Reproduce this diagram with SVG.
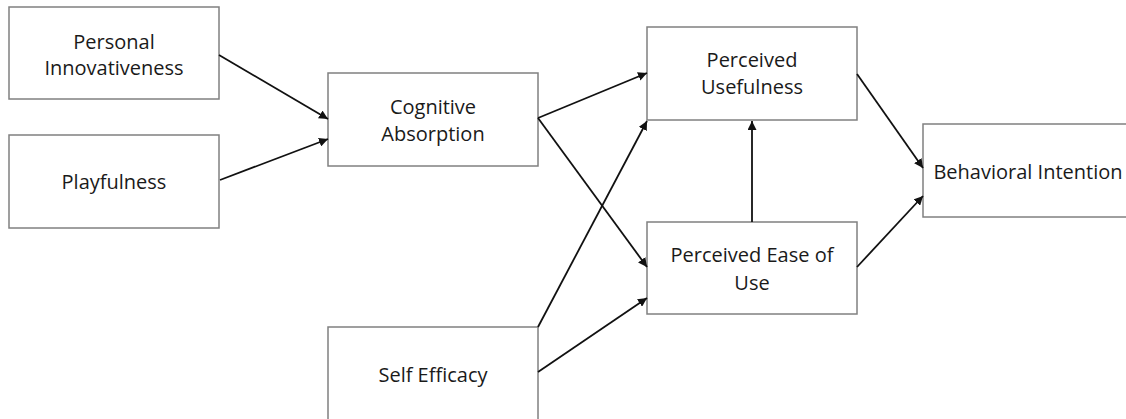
<svg xmlns="http://www.w3.org/2000/svg" width="1126" height="419" viewBox="0 0 1126 419">
<style>
.box{fill:#fff;stroke:#808080;stroke-width:1.5}
.lbl{font-family:"Open Sans","Liberation Sans",sans-serif;font-size:20px;fill:#1a1a1a;text-anchor:middle}
.edge{stroke:#111;stroke-width:1.8;fill:none;marker-end:url(#ah)}
</style>
<defs>
<marker id="ah" viewBox="0 0 10 10" refX="10" refY="5" markerWidth="5" markerHeight="5" orient="auto" markerUnits="strokeWidth">
<path d="M0,0 L10,5 L0,10 z" fill="#111"/>
</marker>
</defs>
<rect width="1126" height="419" fill="#fff"/>
<g id="n-pi"><rect class="box" x="9" y="7" width="210" height="92"/><text class="lbl" x="114" y="49">Personal</text><text class="lbl" x="114" y="75">Innovativeness</text></g>
<g id="n-pf"><rect class="box" x="9" y="135" width="210" height="93"/><text class="lbl" x="114" y="189">Playfulness</text></g>
<g id="n-ca"><rect class="box" x="328" y="73" width="210" height="93"/><text class="lbl" x="433" y="114">Cognitive</text><text class="lbl" x="433" y="141">Absorption</text></g>
<g id="n-se"><rect class="box" x="328" y="327" width="210" height="100"/><text class="lbl" x="433" y="382">Self Efficacy</text></g>
<g id="n-pu"><rect class="box" x="647" y="27" width="210" height="93"/><text class="lbl" x="752" y="67">Perceived</text><text class="lbl" x="752" y="94">Usefulness</text></g>
<g id="n-peou"><rect class="box" x="647" y="222" width="210" height="92"/><text class="lbl" x="752" y="262">Perceived Ease of</text><text class="lbl" x="752" y="290">Use</text></g>
<g id="n-bi"><rect class="box" x="923" y="124" width="210" height="93"/><text class="lbl" x="1028" y="179">Behavioral Intention</text></g>
<g id="connectors">
<line class="edge" x1="219" y1="55" x2="328" y2="119"/>
<line class="edge" x1="220" y1="180" x2="328" y2="139"/>
<line class="edge" x1="538" y1="118" x2="647" y2="73"/>
<line class="edge" x1="538" y1="118" x2="647" y2="267"/>
<line class="edge" x1="538" y1="327" x2="647" y2="121"/>
<line class="edge" x1="538" y1="372" x2="647" y2="298"/>
<line class="edge" x1="752" y1="222" x2="752" y2="121"/>
<line class="edge" x1="857" y1="74" x2="923" y2="168"/>
<line class="edge" x1="857" y1="267" x2="923" y2="196"/>
</g>
</svg>
